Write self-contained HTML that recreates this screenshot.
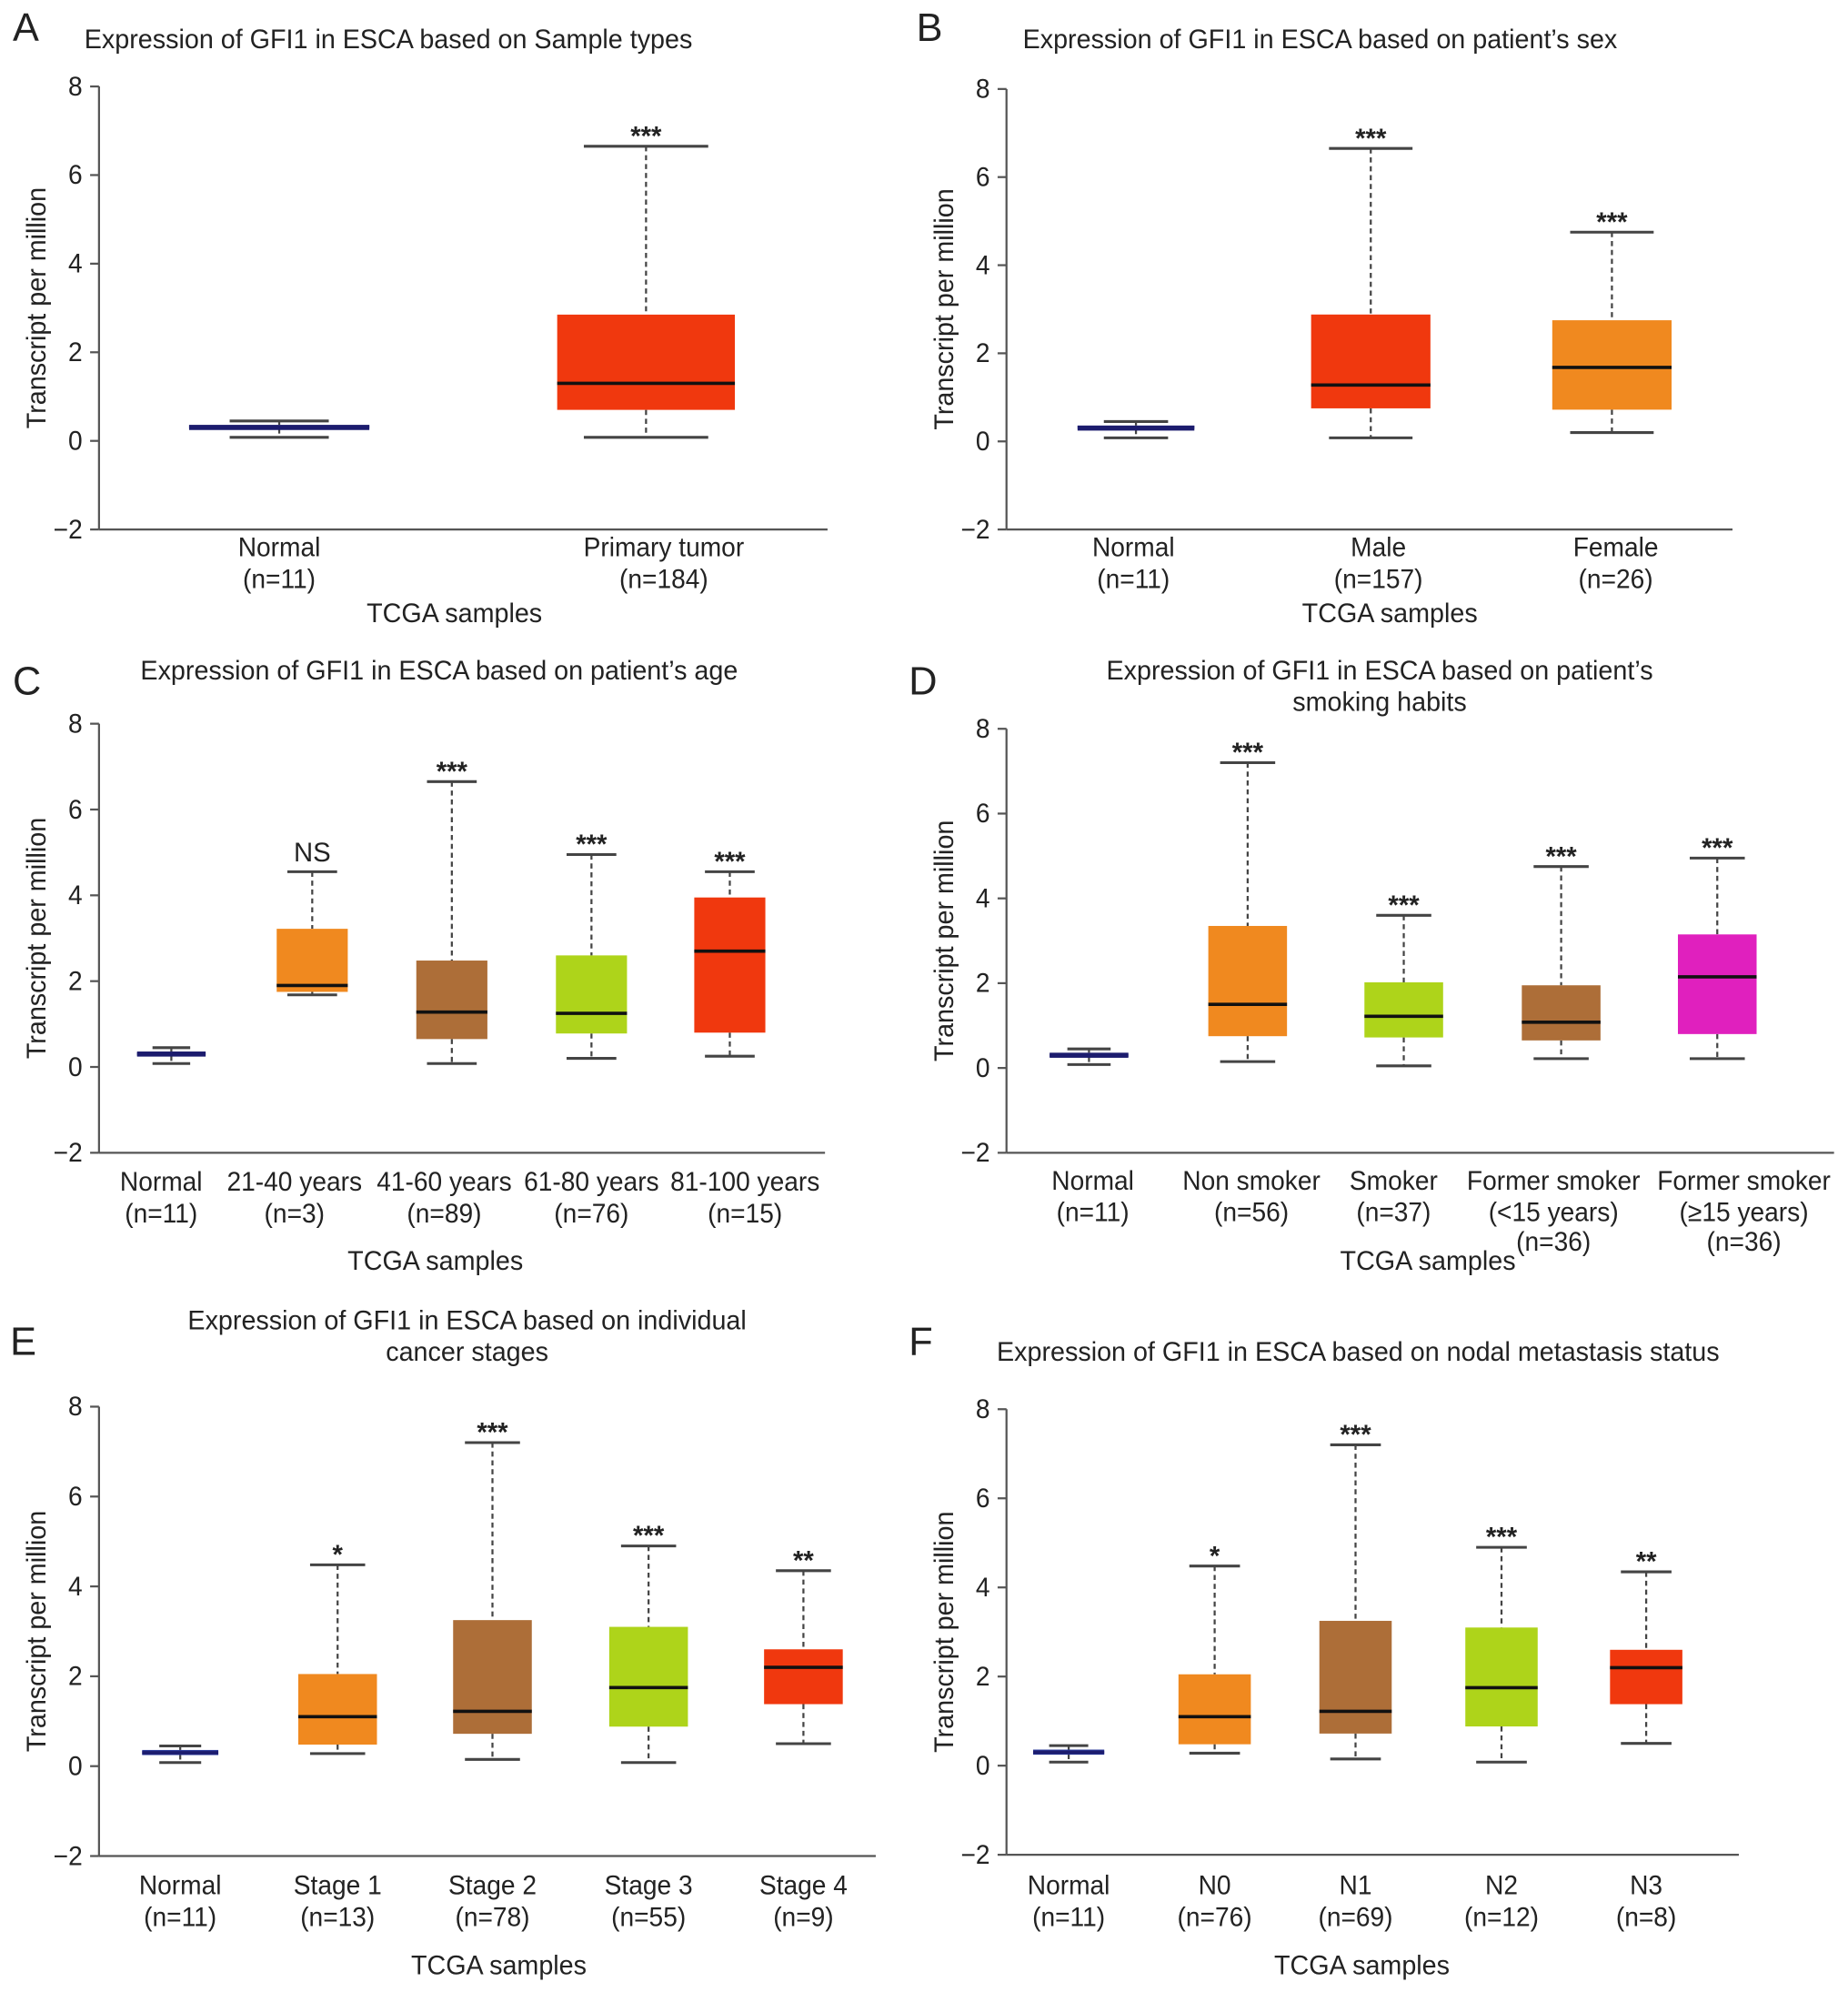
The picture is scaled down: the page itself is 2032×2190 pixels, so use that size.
<!DOCTYPE html>
<html><head><meta charset="utf-8"><style>
html,body{margin:0;padding:0;background:#fff}
svg{display:block}
text{font-family:"Liberation Sans",sans-serif;fill:#222}
</style></head><body>
<svg id="fig" width="2032" height="2190" viewBox="0 0 1456 1569" xmlns="http://www.w3.org/2000/svg"></svg>
<script>
// ---- data ----
const catsA = [["Normal","(n=11)"],["Primary tumor","(n=184)"]];
const statsA = [[0.08,0.28,0.32,0.36,0.45],[0.08,0.7,1.3,2.85,6.65]];
const sigA = ["","***"];
const colA = ["#1c1c6e","#f0380e"];

const catsB = [["Normal","(n=11)"],["Male","(n=157)"],["Female","(n=26)"]];
const statsB = [[0.08,0.28,0.32,0.36,0.45],[0.08,0.75,1.28,2.88,6.65],[0.2,0.72,1.68,2.75,4.75]];
const sigB = ["","***","***"];
const colB = ["#1c1c6e","#f0380e","#f0891f"];

const catsC = [["Normal","(n=11)"],["21-40 years","(n=3)"],["41-60 years","(n=89)"],["61-80 years","(n=76)"],["81-100 years","(n=15)"]];
const statsC = [[0.08,0.26,0.3,0.36,0.45],[1.68,1.75,1.9,3.22,4.55],[0.08,0.65,1.28,2.48,6.65],[0.2,0.78,1.25,2.6,4.95],[0.25,0.8,2.7,3.95,4.55]];
const sigC = ["","NS","***","***","***"];
const colC = ["#1c1c6e","#f0891f","#ad6e38","#aed41a","#f0380e"];

const catsD = [["Normal","(n=11)"],["Non smoker","(n=56)"],["Smoker","(n=37)"],["Former smoker","(<15 years)","(n=36)"],["Former smoker","(≥15 years)","(n=36)"]];
const statsD = [[0.08,0.26,0.3,0.36,0.45],[0.15,0.75,1.5,3.35,7.2],[0.05,0.72,1.22,2.02,3.6],[0.22,0.65,1.08,1.95,4.75],[0.22,0.8,2.15,3.15,4.95]];
const sigD = ["","***","***","***","***"];
const colD = ["#1c1c6e","#f0891f","#aed41a","#ad6e38","#e020be"];

const catsE = [["Normal","(n=11)"],["Stage 1","(n=13)"],["Stage 2","(n=78)"],["Stage 3","(n=55)"],["Stage 4","(n=9)"]];
const statsE = [[0.08,0.26,0.3,0.36,0.45],[0.28,0.48,1.1,2.05,4.48],[0.15,0.72,1.22,3.25,7.2],[0.08,0.88,1.75,3.1,4.9],[0.5,1.38,2.2,2.6,4.35]];
const sigE = ["","*","***","***","**"];
const colE = ["#2a3a9a","#f0891f","#ad6e38","#aed41a","#f0380e"];

const catsF = [["Normal","(n=11)"],["N0","(n=76)"],["N1","(n=69)"],["N2","(n=12)"],["N3","(n=8)"]];
const statsF = [[0.08,0.26,0.3,0.36,0.45],[0.28,0.48,1.1,2.05,4.48],[0.15,0.72,1.22,3.25,7.2],[0.08,0.88,1.75,3.1,4.9],[0.5,1.38,2.2,2.6,4.35]];
const sigF = ["","*","***","***","**"];
const colF = ["#2a3a9a","#f0891f","#ad6e38","#aed41a","#f0380e"];

const yTicks = [8,6,4,2,0,-2];
const yTickLabels = ["8","6","4","2","0","−2"];

// ---- layout ----
const panels = [
 {id:"a",letter:"A",lx:10,ly:32,title:["Expression of GFI1 in ESCA based on Sample types"],tx:306,ty:38,ax:78,y8:68,ym2:417,xend:652,xs:[220,509],labx:[220,523],bw:[142,140],cats:catsA,stats:statsA,sig:sigA,col:colA,lab1:438,tcgaX:358,tcgaY:490},
 {id:"b",letter:"B",lx:722,ly:32,title:["Expression of GFI1 in ESCA based on patient’s sex"],tx:1040,ty:38,ax:793,y8:70,ym2:417,xend:1365,xs:[895,1080,1270],labx:[893,1086,1273],bw:[92,94,94],cats:catsB,stats:statsB,sig:sigB,col:colB,lab1:438,tcgaX:1095,tcgaY:490},
 {id:"c",letter:"C",lx:10,ly:547,title:["Expression of GFI1 in ESCA based on patient’s age"],tx:346,ty:535,ax:78,y8:570,ym2:908,xend:650,xs:[135,246,356,466,575],labx:[127,232,350,466,587],bw:[54,56,56,56,56],cats:catsC,stats:statsC,sig:sigC,col:colC,lab1:938,tcgaX:343,tcgaY:1000},
 {id:"d",letter:"D",lx:716,ly:547,title:["Expression of GFI1 in ESCA based on patient’s","smoking habits"],tx:1087,ty:535,ax:793,y8:574,ym2:908,xend:1445,xs:[858,983,1106,1230,1353],labx:[861,986,1098,1224,1374],bw:[62,62,62,62,62],cats:catsD,stats:statsD,sig:sigD,col:colD,lab1:937,tcgaX:1125,tcgaY:1000},
 {id:"e",letter:"E",lx:8,ly:1067,title:["Expression of GFI1 in ESCA based on individual","cancer stages"],tx:368,ty:1047,ax:78,y8:1108,ym2:1462,xend:690,xs:[142,266,388,511,633],bw:[60,62,62,62,62],cats:catsE,stats:statsE,sig:sigE,col:colE,lab1:1492,tcgaX:393,tcgaY:1555},
 {id:"f",letter:"F",lx:716,ly:1067,title:["Expression of GFI1 in ESCA based on nodal metastasis status"],tx:1070,ty:1072,ax:793,y8:1110,ym2:1461,xend:1370,xs:[842,957,1068,1183,1297],bw:[56,57,57,57,57],cats:catsF,stats:statsF,sig:sigF,col:colF,lab1:1492,tcgaX:1073,tcgaY:1555}
];

const NS="http://www.w3.org/2000/svg";
const svg=document.getElementById('fig');
function mk(tag,attrs,parent,txt){const e=document.createElementNS(NS,tag);for(const k in attrs)e.setAttribute(k,attrs[k]);if(txt!==undefined)e.textContent=txt;parent.appendChild(e);return e;}
function tx(parent,x,y,size,anchor,str,sx){
  return mk('text',{x:0,y:0,'font-size':size,'text-anchor':anchor,transform:`translate(${x},${y}) scale(${sx||0.96},1)`},parent,str);
}

panels.forEach(p=>{
  const g=mk('g',{},svg);
  
  
  const yS=v=>p.ym2+(v+2)/10*(p.y8-p.ym2);
  const L=tx(g,p.lx,p.ly,31,'start',p.letter,1);
  
  
  p.title.forEach((t,i)=>{
    const T=tx(g,p.tx,p.ty+i*25,21,'middle',t,0.98);
    
    
  });
  const ya=mk('line',{x1:p.ax,y1:p.y8,x2:p.ax,y2:p.ym2,stroke:'#555','stroke-width':1.6},g);
  
  
  const xa=mk('line',{x1:p.ax,y1:p.ym2,x2:p.xend,y2:p.ym2,stroke:'#555','stroke-width':1.6},g);
  
  
  yTicks.forEach((v,i)=>{
    const y=yS(v);
    const tk=mk('line',{x1:p.ax-7,y1:y,x2:p.ax,y2:y,stroke:'#555','stroke-width':1.6},g);
    
    
    const tl=tx(g,p.ax-13,y+7,21,'end',yTickLabels[i],0.96);
    
    
  });
  const cy=(p.y8+p.ym2)/2;
  const yt=mk('text',{x:0,y:0,'font-size':21,'text-anchor':'middle',transform:`translate(${p.ax-42},${cy}) rotate(-90) scale(0.98,1)`},g,'Transcript per million');
  
  
  p.stats.forEach((s,i)=>{
    const x=p.xs[i],w=p.bw[i];
    const bg=mk('g',{},g);
    
    
    const cw=i===0?w*0.55:w*0.7;
    mk('line',{x1:x,y1:yS(s[4]),x2:x,y2:yS(s[3]),stroke:'#444','stroke-width':1.6,'stroke-dasharray':'4,3'},bg);
    mk('line',{x1:x,y1:yS(s[1]),x2:x,y2:yS(s[0]),stroke:'#444','stroke-width':1.6,'stroke-dasharray':'4,3'},bg);
    mk('line',{x1:x-cw/2,y1:yS(s[4]),x2:x+cw/2,y2:yS(s[4]),stroke:'#444','stroke-width':2.2},bg);
    mk('line',{x1:x-cw/2,y1:yS(s[0]),x2:x+cw/2,y2:yS(s[0]),stroke:'#444','stroke-width':2.2},bg);
    const h=Math.max(yS(s[1])-yS(s[3]),4);
    mk('rect',{x:x-w/2,y:yS(s[3]),width:w,height:h,fill:p.col[i]},bg);
    mk('line',{x1:x-w/2,y1:yS(s[2]),x2:x+w/2,y2:yS(s[2]),stroke:i===0?'#1c1c6e':'#111','stroke-width':2.6},bg);
    if(p.sig[i]){
      const isNS=p.sig[i]==='NS';
      const st=mk('text',{x:x,y:yS(s[4])-(isNS?8:1),'font-size':isNS?21:21,'font-weight':isNS?'normal':'bold','text-anchor':'middle'},g,p.sig[i]);
      
      
    }
    const lxp=p.labx?p.labx[i]:x;
    p.cats[i].forEach((line,j)=>{
      const yy=p.lab1+j*25+(j===2?-2:0);
      const cl=tx(g,lxp,yy,21,'middle',line,0.96);
      
      
    });
  });
  const xt=tx(g,p.tcgaX,p.tcgaY,21,'middle','TCGA samples',0.98);
  
  
});
</script>
</body></html>
